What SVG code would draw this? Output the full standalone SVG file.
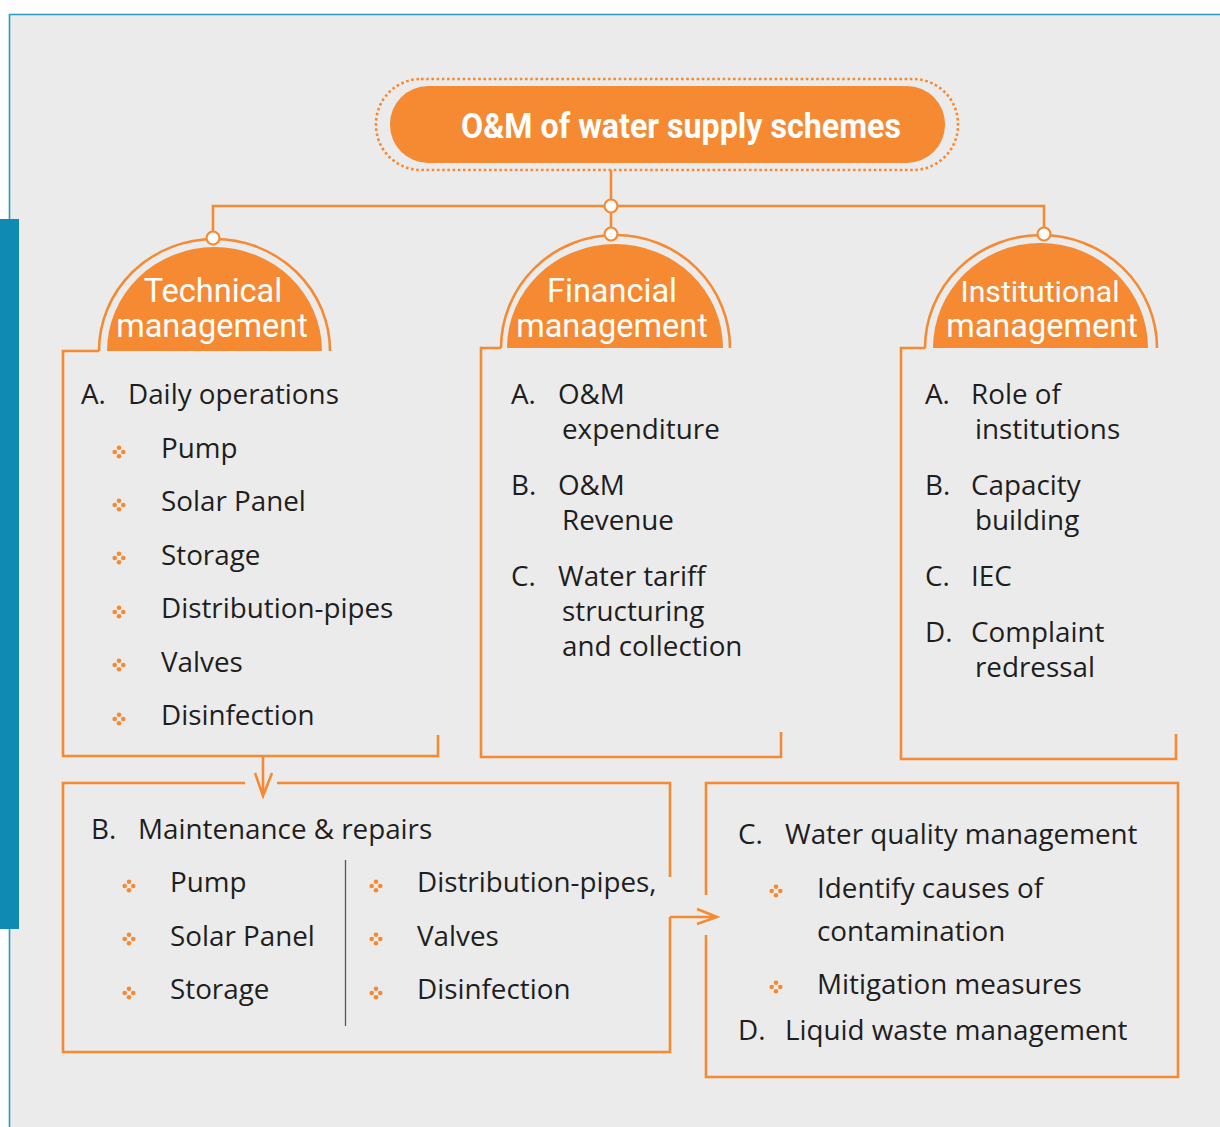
<svg xmlns="http://www.w3.org/2000/svg" width="1220" height="1127" viewBox="0 0 1220 1127">
  <defs>
    <style>
      .line { fill: none; stroke: #F68A33; stroke-width: 2.6; stroke-linejoin: miter; }
      .dome-fill { fill: #F68A33; }
      .dome-ring { fill: none; stroke: #F68A33; stroke-width: 2.6; }
      .knob { fill: #ffffff; stroke: #F68A33; stroke-width: 2.2; }
      .dome-text { font-family: Roboto, "Liberation Sans", sans-serif; font-size: 32.5px; fill: #ffffff; text-anchor: middle; }
      .dome-text.small { font-size: 30.2px; }
      .body { font-family: "Open Sans", "Liberation Sans", sans-serif; font-size: 27.8px; fill: #1e1e1e; }
      .bul circle { fill: #F68A33; }
    </style>
    <g id="bullet" class="bul">
      <circle cx="0" cy="-4.3" r="2.3"/>
      <circle cx="-4.3" cy="0" r="2.3"/>
      <circle cx="4.3" cy="0" r="2.3"/>
      <circle cx="0" cy="4.3" r="2.3"/>
    </g>
  </defs>

  <!-- page background and frame -->
  <rect x="0" y="0" width="1220" height="1127" fill="#ffffff"/>
  <rect x="9.5" y="14.5" width="1215" height="1120" fill="#ebebeb"/>
  <path d="M 9.5 1127 V 14.5 H 1220" fill="none" stroke="#2a9ac0" stroke-width="1.6"/>
  <rect x="0" y="219" width="19" height="710" fill="#0f8bb3"/>

  <!-- connectors -->
  <g id="connectors">
    <path class="line" d="M 611 170 V 200"/>
    <path class="line" d="M 213 232 V 206 H 1044 V 228"/>
    <path class="line" d="M 611 212 V 228"/>
    <!-- down arrow into maintenance box -->
    <path class="line" d="M 263 756 V 796 M 255 773 L 263 796 L 272 773"/>
    <!-- right arrow into water quality box -->
    <path class="line" d="M 670 917 H 717 M 697 909 L 717 917 L 697 924"/>
    <circle class="knob" cx="611" cy="206" r="6.5"/>
  </g>

  <!-- title -->
  <g id="title">
    <rect x="376" y="79" width="582" height="91" rx="45" fill="none" stroke="#F68A33" stroke-width="2.6" stroke-dasharray="2.6 2.6"/>
    <rect x="390" y="86" width="555" height="77" rx="38" fill="#F68A33"/>
    <text x="681" y="138" transform="translate(681 0) scale(0.92 1) translate(-681 0)" font-family="Roboto, 'Liberation Sans', sans-serif" font-weight="700" font-size="35" fill="#ffffff" text-anchor="middle">O&amp;M of water supply schemes</text>
  </g>

  <!-- technical management -->
  <g id="technical">
    <path class="dome-fill" d="M 107 351 A 107.5 104 0 0 1 322 351 Z"/>
    <path class="dome-ring" d="M 99 351 A 115.5 112 0 0 1 330 351"/>
    <circle class="knob" cx="213" cy="238" r="6.5"/>
    <text class="dome-text" x="213" y="302">Technical</text>
    <text class="dome-text" x="212" y="337">management</text>
    <path class="line" d="M 99 351 H 63 V 756 H 438 V 735"/>
    <text class="body" x="81" y="404">A.</text>
    <text class="body" x="128" y="404">Daily operations</text>
    <use href="#bullet" x="119" y="452"/>
    <use href="#bullet" x="119" y="505"/>
    <use href="#bullet" x="119" y="558"/>
    <use href="#bullet" x="119" y="612"/>
    <use href="#bullet" x="119" y="665"/>
    <use href="#bullet" x="119" y="719"/>
    <text class="body" x="161" y="458">Pump</text>
    <text class="body" x="161" y="511">Solar Panel</text>
    <text class="body" x="161" y="565">Storage</text>
    <text class="body" x="161" y="618">Distribution-pipes</text>
    <text class="body" x="161" y="672">Valves</text>
    <text class="body" x="161" y="725">Disinfection</text>
  </g>

  <!-- financial management -->
  <g id="financial">
    <path class="dome-fill" d="M 507 348 A 108 104 0 0 1 723 348 Z"/>
    <path class="dome-ring" d="M 501 348 A 114.5 113 0 0 1 730 348"/>
    <circle class="knob" cx="611" cy="234" r="6.5"/>
    <text class="dome-text" x="612" y="302">Financial</text>
    <text class="dome-text" x="612" y="337">management</text>
    <path class="line" d="M 501 348 H 481 V 757 H 781 V 732"/>
    <text class="body" x="511" y="404">A.</text>
    <text class="body" x="558" y="404">O&amp;M</text>
    <text class="body" x="562" y="439">expenditure</text>
    <text class="body" x="511" y="495">B.</text>
    <text class="body" x="558" y="495">O&amp;M</text>
    <text class="body" x="562" y="530">Revenue</text>
    <text class="body" x="511" y="586">C.</text>
    <text class="body" x="558" y="586">Water tariff</text>
    <text class="body" x="562" y="621">structuring</text>
    <text class="body" x="562" y="656">and collection</text>
  </g>

  <!-- institutional management -->
  <g id="institutional">
    <path class="dome-fill" d="M 933 348 A 107.5 105 0 0 1 1148 348 Z"/>
    <path class="dome-ring" d="M 925 348 A 116 113 0 0 1 1157 348"/>
    <circle class="knob" cx="1044" cy="234" r="6.5"/>
    <text class="dome-text small" x="1040" y="302">Institutional</text>
    <text class="dome-text" x="1042" y="337">management</text>
    <path class="line" d="M 925 348 H 901 V 759 H 1176 V 734"/>
    <text class="body" x="925" y="404">A.</text>
    <text class="body" x="971" y="404">Role of</text>
    <text class="body" x="975" y="439">institutions</text>
    <text class="body" x="925" y="495">B.</text>
    <text class="body" x="971" y="495">Capacity</text>
    <text class="body" x="975" y="530">building</text>
    <text class="body" x="925" y="586">C.</text>
    <text class="body" x="971" y="586">IEC</text>
    <text class="body" x="925" y="642">D.</text>
    <text class="body" x="971" y="642">Complaint</text>
    <text class="body" x="975" y="677">redressal</text>
  </g>

  <!-- maintenance and repairs -->
  <g id="maintenance">
    <path class="line" d="M 245 783 H 63 V 1052 H 670 V 917"/>
    <path class="line" d="M 277 783 H 670 V 877"/>
    <line x1="345.5" y1="860" x2="345.5" y2="1026" stroke="#555555" stroke-width="1.3"/>
    <text class="body" x="91" y="839">B.</text>
    <text class="body" x="138" y="839">Maintenance &amp; repairs</text>
    <use href="#bullet" x="129" y="886"/>
    <use href="#bullet" x="129" y="939"/>
    <use href="#bullet" x="129" y="993"/>
    <text class="body" x="170" y="892">Pump</text>
    <text class="body" x="170" y="946">Solar Panel</text>
    <text class="body" x="170" y="999">Storage</text>
    <use href="#bullet" x="376" y="886"/>
    <use href="#bullet" x="376" y="939"/>
    <use href="#bullet" x="376" y="993"/>
    <text class="body" x="417" y="892">Distribution-pipes,</text>
    <text class="body" x="417" y="946">Valves</text>
    <text class="body" x="417" y="999">Disinfection</text>
  </g>

  <!-- water quality and liquid waste -->
  <g id="water-quality">
    <path class="line" d="M 706 895 V 783 H 1178 V 1077 H 706 V 935"/>
    <text class="body" x="738" y="844">C.</text>
    <text class="body" x="785" y="844">Water quality management</text>
    <use href="#bullet" x="776" y="891"/>
    <text class="body" x="817" y="898">Identify causes of</text>
    <text class="body" x="817" y="941">contamination</text>
    <use href="#bullet" x="776" y="987"/>
    <text class="body" x="817" y="994">Mitigation measures</text>
    <text class="body" x="738" y="1040">D.</text>
    <text class="body" x="785" y="1040">Liquid waste management</text>
  </g>
</svg>
